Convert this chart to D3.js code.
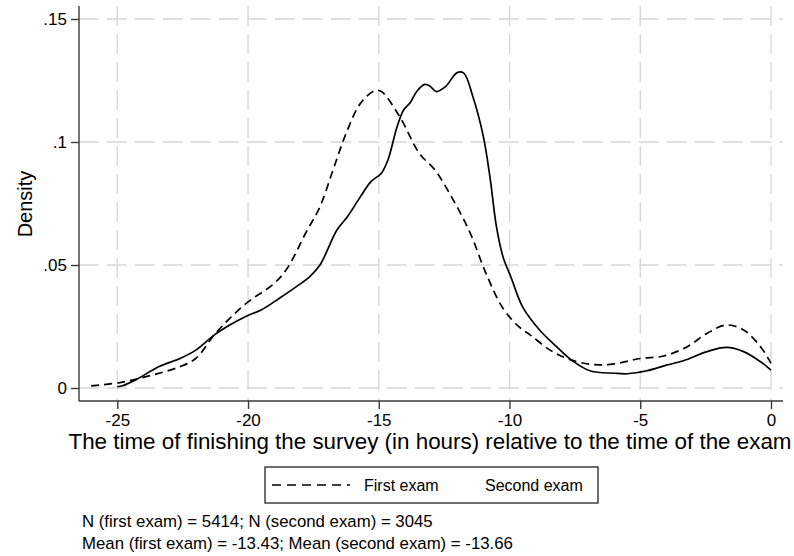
<!DOCTYPE html>
<html>
<head>
<meta charset="utf-8">
<script src="https://cdn.jsdelivr.net/npm/d3@7"></script>
<style>
  body { margin: 0; background: #fff; }
  text { font-family: "Liberation Sans", Arial, sans-serif; fill: #000; }
</style>
</head>
<body>
<svg width="794" height="556"></svg>
<script>
// kernel density estimates
var firstHours = [-26.0, -24.9, -23.9, -22.6, -22.0, -21.3, -20.7, -20.0, -19.0, -18.5, -17.8, -17.25, -16.75, -16.25, -15.7, -15.15, -14.9, -14.2, -13.45, -12.85, -12.15, -11.5, -10.9, -10.25, -9.6, -9.2, -8.45, -7.8, -6.9, -6.0, -5.0, -4.1, -3.2, -2.45, -1.7, -1.05, -0.4, 0]
var firstDensity = [0.0009, 0.0022, 0.0046, 0.0087, 0.012, 0.0215, 0.0283, 0.035, 0.0425, 0.0487, 0.0629, 0.0737, 0.0886, 0.1035, 0.1157, 0.1209, 0.1205, 0.1103, 0.0954, 0.0886, 0.0764, 0.0629, 0.0466, 0.0324, 0.0245, 0.0215, 0.0154, 0.012, 0.0096, 0.0098, 0.012, 0.013, 0.0168, 0.0222, 0.0256, 0.0236, 0.0168, 0.010]

var secondHours = [-25.0, -24.8, -24.3, -23.4, -22.6, -22.0, -21.3, -20.7, -20.05, -19.5, -18.8, -18.15, -17.65, -17.25, -16.6, -16.2, -15.7, -15.3, -14.9, -14.65, -14.3, -14.05, -13.8, -13.55, -13.25, -13.05, -12.8, -12.45, -12.0, -11.75, -11.4, -11.0, -10.75, -10.5, -10.25, -9.95, -9.5, -8.85, -8.2, -7.55, -6.9, -6.0, -5.5, -4.75, -4.0, -3.35, -2.45, -1.7, -1.05, -0.4, 0]
var secondDensity = [0.0005, 0.0009, 0.0033, 0.0087, 0.012, 0.0154, 0.0215, 0.0256, 0.0293, 0.0317, 0.0365, 0.0412, 0.0452, 0.05, 0.0642, 0.0696, 0.0778, 0.0839, 0.0873, 0.0927, 0.1062, 0.113, 0.116, 0.1205, 0.1234, 0.1228, 0.1205, 0.1225, 0.1282, 0.128, 0.1184, 0.1022, 0.0859, 0.0656, 0.0534, 0.0452, 0.033, 0.0236, 0.0168, 0.0107, 0.0069, 0.006, 0.0058, 0.007, 0.0093, 0.0111, 0.0148, 0.0165, 0.0148, 0.0107, 0.0073]

var xTicks = [-25, -20, -15, -10, -5, 0]
var yTicks = [0, 0.05, 0.1, 0.15]
var yTickLabels = ['0', '.05', '.1', '.15']
var seriesNames = ['First exam', 'Second exam']
var notes = ['N (first exam) = 5414; N (second exam) = 3045',
             'Mean (first exam) = -13.43; Mean (second exam) = -13.66']

var svg = d3.select('svg')
var plot = {left: 79, right: 783, top: 6, bottom: 401}

var x = d3.scaleLinear().domain([-25, 0]).range([117.3, 771])
var y = d3.scaleLinear().domain([0, 0.15]).range([388, 19])

// grid lines
svg.append('g').selectAll('line').data(xTicks).enter().append('line')
    .attr('x1', d => x(d)).attr('x2', d => x(d))
    .attr('y1', plot.top).attr('y2', plot.bottom)
    .attr('stroke', '#d6d6d6').attr('stroke-width', 1.3)
    .attr('stroke-dasharray', '20,8')
svg.append('g').selectAll('line').data(yTicks).enter().append('line')
    .attr('x1', plot.left).attr('x2', plot.right)
    .attr('y1', d => y(d)).attr('y2', d => y(d))
    .attr('stroke', '#d6d6d6').attr('stroke-width', 1.3)
    .attr('stroke-dasharray', '20,8')

// axes
var xAxis = svg.append('g')
    .attr('transform', `translate(0,${plot.bottom})`)
    .call(d3.axisBottom(x).tickValues(xTicks).tickSize(8).tickPadding(4).tickFormat(d => d))
var yAxis = svg.append('g')
    .attr('transform', `translate(${plot.left},0)`)
    .call(d3.axisLeft(y).tickValues(yTicks).tickSize(8).tickPadding(4).tickFormat((d, i) => yTickLabels[i]))

xAxis.select('.domain').attr('d', `M${plot.left},0H${plot.right}`)
yAxis.select('.domain').attr('d', `M0,${plot.top}V${plot.bottom}`)
svg.selectAll('.domain, .tick line').attr('stroke', '#3a3a3a').attr('stroke-width', 1.4)
svg.selectAll('.tick text').style('font-size', '17px').attr('fill', '#000')
xAxis.selectAll('.tick text').attr('dy', '0.75em')
yAxis.selectAll('.tick text').attr('dy', '0.35em')

// axis titles
svg.append('text')
    .attr('x', 430).attr('y', 449)
    .attr('text-anchor', 'middle')
    .style('font-size', '22.4px')
    .text('The time of finishing the survey (in hours) relative to the time of the exam')
svg.append('text')
    .attr('transform', 'translate(32,204) rotate(-90)')
    .attr('text-anchor', 'middle')
    .style('font-size', '20px')
    .text('Density')

// density curves
var line = d3.line()
    .x(d => x(d[0]))
    .y(d => y(d[1]))
    .curve(d3.curveCatmullRom.alpha(0.5))

svg.append('path')
    .attr('d', line(d3.zip(firstHours, firstDensity)))
    .attr('fill', 'none').attr('stroke', '#000')
    .attr('stroke-width', 1.7).attr('stroke-dasharray', '8,5')
svg.append('path')
    .attr('d', line(d3.zip(secondHours, secondDensity)))
    .attr('fill', 'none').attr('stroke', '#000')
    .attr('stroke-width', 1.7)

// legend (second exam key is drawn without a line sample, as in the original)
var legend = svg.append('g')
legend.append('rect')
    .attr('x', 265).attr('y', 467).attr('width', 333).attr('height', 36)
    .attr('fill', 'none').attr('stroke', '#222').attr('stroke-width', 1.3)
legend.append('line')
    .attr('x1', 272).attr('x2', 350).attr('y1', 485).attr('y2', 485)
    .attr('stroke', '#000').attr('stroke-width', 1.7).attr('stroke-dasharray', '9,6')
legend.selectAll('text.key').data(seriesNames).enter().append('text')
    .attr('class', 'key')
    .attr('x', (d, i) => i == 0 ? 364 : 485)
    .attr('y', 491)
    .style('font-size', '16px')
    .text(d => d)

// notes
svg.selectAll('text.note').data(notes).enter().append('text')
    .attr('class', 'note')
    .attr('x', 82)
    .attr('y', (d, i) => 527 + i * 21.5)
    .style('font-size', '16.8px')
    .text(d => d)
</script>
</body>
</html>
